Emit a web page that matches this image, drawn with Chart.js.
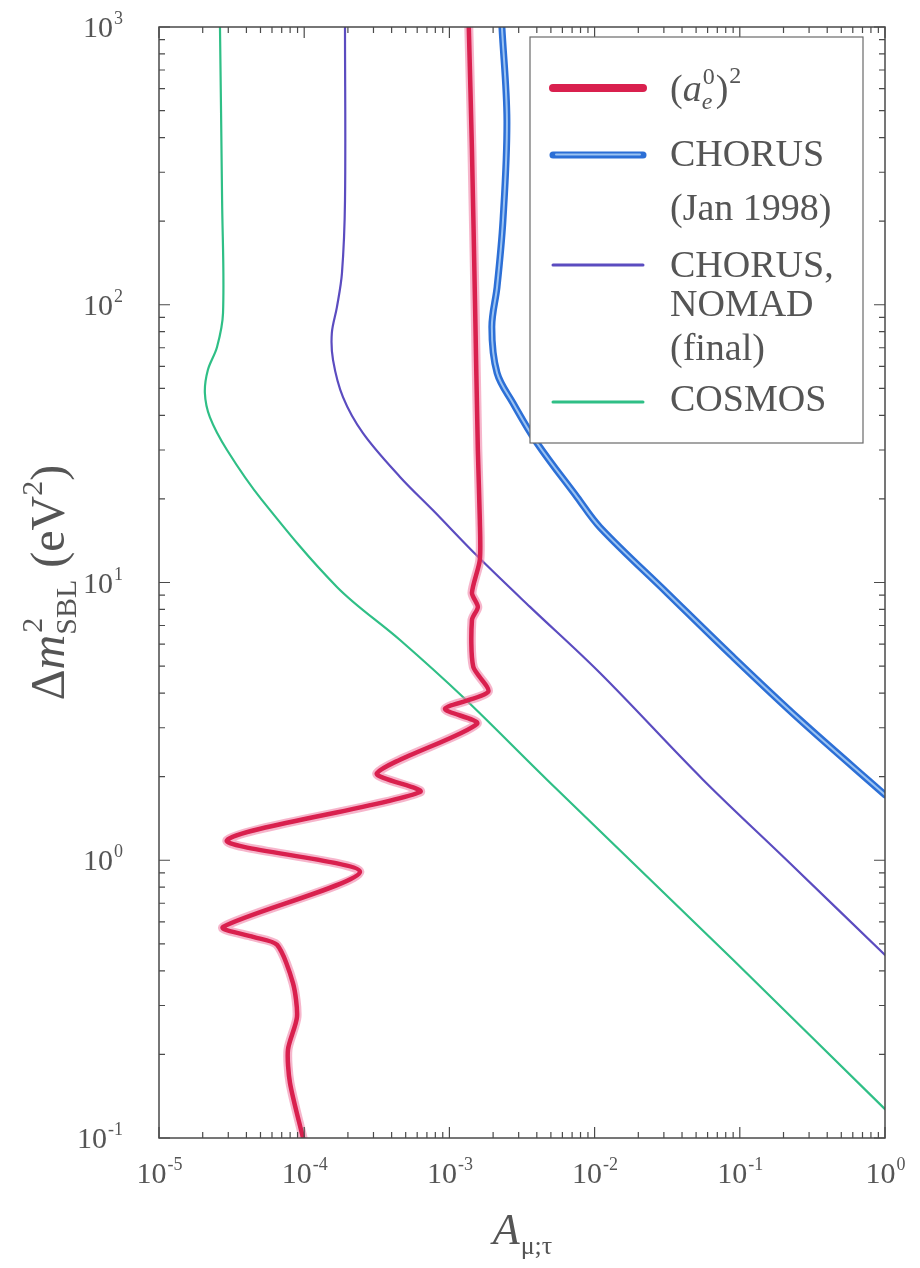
<!DOCTYPE html>
<html>
<head>
<meta charset="utf-8">
<script src="https://cdn.jsdelivr.net/npm/chart.js@4.4.1/dist/chart.umd.min.js"></script>
<style>
  html, body { margin: 0; padding: 0; background: #ffffff; }
  #wrap { width: 920px; height: 1268px; position: relative; }
</style>
</head>
<body>
<div id="wrap"><canvas id="sblChart"></canvas></div>
<script>
// --- DATA ---
const xTickExps = [-5, -4, -3, -2, -1, 0];
const yTickExps = [-1, 0, 1, 2, 3];

// COSMOS
const cosmosA  = [2.63e-5, 2.72e-5, 2.76e-5, 2.51e-5, 2.17e-5, 2.07e-5, 2.24e-5, 2.94e-5, 5.12e-5, 1.68e-4, 4.57e-4, 1.24e-3, 4.70e-3, 0.0898, 1];
const cosmosDm = [1000, 238, 93.3, 70.4, 58.2, 48.1, 39.4, 30.0, 19.8, 9.64, 6.21, 3.87, 1.95, 0.438, 0.127];

// CHORUS, NOMAD (final)
const nomadA  = [1.91e-4, 1.91e-4, 1.82e-4, 1.68e-4, 1.55e-4, 1.58e-4, 1.85e-4, 2.54e-4, 4.57e-4, 7.71e-4, 1.57e-3, 3.59e-3, 0.0109, 0.0558, 0.211, 1];
const nomadDm = [1000, 238, 130, 98, 79.1, 63.2, 46.5, 34.5, 24.0, 18.2, 12.4, 8.17, 4.72, 1.95, 1.0, 0.456];

// CHORUS (Jan 1998)
const chorusA  = [2.30e-3, 2.49e-3, 2.34e-3, 2.13e-3, 1.96e-3, 2.13e-3, 2.74e-3, 4.01e-3, 7.57e-3, 0.0109, 0.0316, 0.0898, 0.260, 1];
const chorusDm = [1000, 462, 202, 116, 83.2, 56.8, 44.3, 31.8, 20.3, 15.8, 9.17, 5.39, 3.20, 1.72];

// (a_e^0)^2
const aeA  = [1.36e-3, 1.43e-3, 1.50e-3, 1.57e-3, 1.62e-3, 1.62e-3, 1.43e-3, 1.57e-3, 1.43e-3, 1.46e-3, 1.85e-3, 9.33e-4, 1.55e-3,
              3.17e-4, 6.28e-4, 2.94e-5, 2.42e-4, 2.76e-5, 4.44e-5, 6.50e-5, 8.37e-5, 8.92e-5, 7.73e-5, 7.98e-5, 9.82e-5];
const aeDm = [1000, 360, 104, 30, 16.8, 12.05, 9.17, 8.17, 7.33, 4.97, 4.04, 3.51, 3.10,
              2.06, 1.76, 1.18, 0.908, 0.575, 0.530, 0.496, 0.361, 0.273, 0.208, 0.158, 0.1];

const FONT = '"Liberation Serif", "Times New Roman", serif';
const TEXT_COLOR = '#555555';

const toPoints = (xs, ys) => xs.map((x, i) => ({ x: x, y: ys[i] }));

// --- helpers for drawing 10^n labels ---
const drawPow = (ctx, exp, x, baseline, align) => {
    ctx.font = `30px ${FONT}`;
    const w1 = ctx.measureText('10').width;
    ctx.font = `18px ${FONT}`;
    const w2 = ctx.measureText(exp).width;
    let start = x - (w1 + w2) / 2;
    if (align === 'right') start = x - (w1 + w2);
    ctx.textAlign = 'left';
    ctx.textBaseline = 'alphabetic';
    ctx.font = `30px ${FONT}`;
    ctx.fillText('10', start, baseline);
    ctx.font = `18px ${FONT}`;
    ctx.fillText(exp, start + w1 + 1, baseline - 13);
};

const framePlugin = {
    id: 'frame',
    afterDraw(chart) {
        const { ctx, chartArea: a, scales } = chart;
        const xs = scales.x, ys = scales.y;
        ctx.save();

        // frame
        ctx.strokeStyle = '#4a4a4a';
        ctx.lineWidth = 1.5;
        ctx.strokeRect(a.left, a.top, a.right - a.left, a.bottom - a.top);

        // inward ticks
        ctx.lineWidth = 1.2;
        ctx.beginPath();
        for (let e = -5; e <= 0; e++) {
            for (let m = 1; m <= 9; m++) {
                const v = m * Math.pow(10, e);
                if (v > 1.0001) break;
                const px = xs.getPixelForValue(v);
                const len = m === 1 ? 11 : 6;
                ctx.moveTo(px, a.bottom); ctx.lineTo(px, a.bottom - len);
                ctx.moveTo(px, a.top); ctx.lineTo(px, a.top + len);
            }
        }
        for (let e = -1; e <= 3; e++) {
            for (let m = 1; m <= 9; m++) {
                const v = m * Math.pow(10, e);
                if (v > 1000.01) break;
                const py = ys.getPixelForValue(v);
                const len = m === 1 ? 11 : 6;
                ctx.moveTo(a.left, py); ctx.lineTo(a.left + len, py);
                ctx.moveTo(a.right, py); ctx.lineTo(a.right - len, py);
            }
        }
        ctx.stroke();

        // tick labels
        ctx.fillStyle = TEXT_COLOR;
        xTickExps.forEach(e => {
            const px = xs.getPixelForValue(Math.pow(10, e));
            drawPow(ctx, e < 0 ? '-' + Math.abs(e) : String(e), px, 1183, 'center');
        });
        yTickExps.forEach(e => {
            const py = ys.getPixelForValue(Math.pow(10, e));
            drawPow(ctx, e < 0 ? '-' + Math.abs(e) : String(e), 122, py + 10, 'right');
        });

        // x title: A_{mu;tau}
        ctx.textAlign = 'left';
        ctx.textBaseline = 'alphabetic';
        ctx.font = `italic 44px ${FONT}`;
        const wA = ctx.measureText('A').width;
        ctx.font = `26px ${FONT}`;
        const wSub = ctx.measureText('\u03bc;\u03c4').width;
        const cx = (a.left + a.right) / 2;
        const sx = cx - (wA + wSub) / 2;
        ctx.font = `italic 44px ${FONT}`;
        ctx.fillText('A', sx, 1244);
        ctx.font = `26px ${FONT}`;
        ctx.fillText('\u03bc;\u03c4', sx + wA + 1, 1254);

        // y title: Δm²_SBL (eV²)
        ctx.save();
        ctx.translate(64, (a.top + a.bottom) / 2);
        ctx.rotate(-Math.PI / 2);
        ctx.font = `48px ${FONT}`;
        const wD = ctx.measureText('\u0394').width;
        ctx.font = `italic 48px ${FONT}`;
        const wM = ctx.measureText('m').width;
        ctx.font = `30px ${FONT}`;
        const wSBL = ctx.measureText('SBL').width;
        ctx.font = `48px ${FONT}`;
        const wOpen = ctx.measureText(' (eV').width;
        const wClose = ctx.measureText(')').width;
        ctx.font = `30px ${FONT}`;
        const w2 = ctx.measureText('2').width;
        const total = wD + wM + wSBL + wOpen + w2 + wClose;
        let p = -total / 2;
        ctx.font = `48px ${FONT}`;
        ctx.fillText('\u0394', p, 0); p += wD;
        ctx.font = `italic 48px ${FONT}`;
        ctx.fillText('m', p, 0); p += wM;
        ctx.font = `30px ${FONT}`;
        ctx.fillText('2', p + 2, -22);
        ctx.fillText('SBL', p, 12); p += wSBL;
        ctx.font = `48px ${FONT}`;
        ctx.fillText(' (eV', p, 0); p += wOpen;
        ctx.font = `30px ${FONT}`;
        ctx.fillText('2', p, -22); p += w2;
        ctx.font = `48px ${FONT}`;
        ctx.fillText(')', p, 0);
        ctx.restore();

        // legend box
        const L = { left: 530, top: 37, right: 863, bottom: 443 };
        ctx.fillStyle = '#ffffff';
        ctx.fillRect(L.left, L.top, L.right - L.left, L.bottom - L.top);
        ctx.strokeStyle = '#6a6a6a';
        ctx.lineWidth = 1.2;
        ctx.strokeRect(L.left, L.top, L.right - L.left, L.bottom - L.top);

        const sample = (y, color, width, hi) => {
            ctx.lineCap = 'round';
            ctx.strokeStyle = color;
            ctx.lineWidth = width;
            ctx.beginPath(); ctx.moveTo(553, y); ctx.lineTo(643, y); ctx.stroke();
            if (hi) {
                ctx.strokeStyle = hi;
                ctx.lineWidth = 2;
                ctx.beginPath(); ctx.moveTo(556, y - 0.5); ctx.lineTo(640, y - 0.5); ctx.stroke();
            }
        };
        sample(88, '#d9204e', 8);
        sample(155, '#2c6fd6', 7, '#9cc4f2');
        sample(265, '#5b4cc0', 3);
        sample(402, '#2fbf86', 3);

        ctx.fillStyle = TEXT_COLOR;
        ctx.textAlign = 'left';
        // (a_e^0)^2
        ctx.textBaseline = 'alphabetic';
        let tx = 670;
        const by = 101;
        ctx.font = `38px ${FONT}`;
        ctx.fillText('(', tx, by); tx += ctx.measureText('(').width;
        ctx.font = `italic 38px ${FONT}`;
        ctx.fillText('a', tx, by); tx += ctx.measureText('a').width;
        ctx.font = `italic 24px ${FONT}`;
        ctx.fillText('e', tx, by + 8);
        ctx.font = `24px ${FONT}`;
        ctx.fillText('0', tx + 1, by - 17); tx += ctx.measureText('0').width + 2;
        ctx.font = `38px ${FONT}`;
        ctx.fillText(')', tx, by); tx += ctx.measureText(')').width;
        ctx.font = `24px ${FONT}`;
        ctx.fillText('2', tx + 1, by - 18);

        ctx.textBaseline = 'middle';
        ctx.font = `38px ${FONT}`;
        const legendLines = [
            ['CHORUS', 156], ['(Jan 1998)', 210], ['CHORUS,', 267],
            ['NOMAD', 306], ['(final)', 350], ['COSMOS', 401]
        ];
        legendLines.forEach(([t, y]) => ctx.fillText(t, 670, y));

        ctx.restore();
    }
};

const ctx = document.getElementById('sblChart').getContext('2d');

const sblChart = new Chart(ctx, {
    type: 'scatter',
    data: {
        datasets: [
            { label: '(a_e^0)^2', data: toPoints(aeA, aeDm), borderColor: '#d9204e', borderWidth: 4.5, tension: 0.25, order: 0 },
            { label: 'halo', data: toPoints(aeA, aeDm), borderColor: 'rgba(238,120,160,0.55)', borderWidth: 9, tension: 0.25, order: 1 },
            { label: 'CHORUS hi', data: toPoints(chorusA, chorusDm), borderColor: '#9cc4f2', borderWidth: 2, tension: 0.35, order: 2 },
            { label: 'CHORUS (Jan 1998)', data: toPoints(chorusA, chorusDm), borderColor: '#2c6fd6', borderWidth: 7, tension: 0.35, order: 3 },
            { label: 'CHORUS, NOMAD (final)', data: toPoints(nomadA, nomadDm), borderColor: '#5b4cc0', borderWidth: 2.2, tension: 0.35, order: 4 },
            { label: 'COSMOS', data: toPoints(cosmosA, cosmosDm), borderColor: '#2fbf86', borderWidth: 2.2, tension: 0.35, order: 5 }
        ].map(d => Object.assign(d, { showLine: true, pointRadius: 0, fill: false, borderCapStyle: 'round', borderJoinStyle: 'round' }))
    },
    options: {
        responsive: true,
        maintainAspectRatio: false,
        animation: false,
        layout: { padding: { top: 27, right: 35, left: 0, bottom: 0 } },
        plugins: {
            legend: { display: false },
            tooltip: { enabled: false }
        },
        scales: {
            x: {
                type: 'logarithmic',
                min: 1e-5,
                max: 1,
                grid: { display: false },
                border: { display: false },
                ticks: { display: false },
                afterFit: (s) => { s.height = 130; }
            },
            y: {
                type: 'logarithmic',
                min: 0.1,
                max: 1000,
                grid: { display: false },
                border: { display: false },
                ticks: { display: false },
                afterFit: (s) => { s.width = 159; }
            }
        }
    },
    plugins: [framePlugin]
});
</script>
</body>
</html>
